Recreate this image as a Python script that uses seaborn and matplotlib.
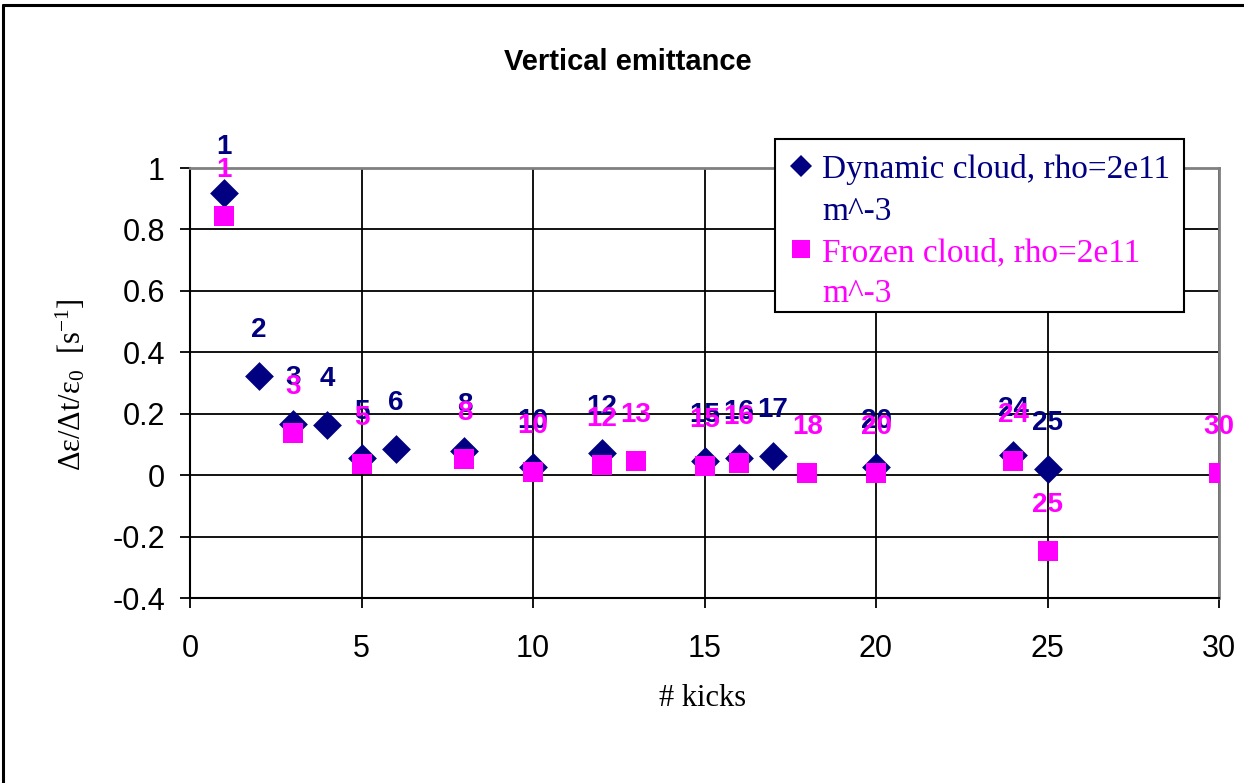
import matplotlib
matplotlib.use("Agg")
import matplotlib.pyplot as plt
import seaborn as sns
import pandas as pd
from matplotlib.lines import Line2D
from matplotlib.patches import Rectangle

# ---- data ----
dyn_kicks = [1, 2, 3, 4, 5, 6, 8, 10, 12, 15, 16, 17, 20, 24, 25]
dyn_vals = [0.918, 0.322, 0.166, 0.163, 0.055, 0.085, 0.078, 0.026, 0.072,
            0.046, 0.055, 0.062, 0.026, 0.065, 0.020]
frz_kicks = [1, 3, 5, 8, 10, 12, 13, 15, 16, 18, 20, 24, 25, 30]
frz_vals = [0.844, 0.137, 0.036, 0.052, 0.010, 0.033, 0.046, 0.030, 0.040,
            0.007, 0.007, 0.046, -0.247, 0.007]
series_names = ["Dynamic cloud, rho=2e11", "Frozen cloud, rho=2e11"]
x_ticks = [0, 5, 10, 15, 20, 25, 30]
y_ticks = [-0.4, -0.2, 0, 0.2, 0.4, 0.6, 0.8, 1]
y_tick_labels = ["-0.4", "-0.2", "0", "0.2", "0.4", "0.6", "0.8", "1"]

NAVY = "#000080"
MAGENTA = "#FF00FF"

sns.set_style("white")
plt.rcParams["font.family"] = ["Liberation Sans", "DejaVu Sans"]
plt.rcParams["mathtext.fontset"] = "custom"
plt.rcParams["mathtext.rm"] = "Liberation Serif"
plt.rcParams["mathtext.it"] = "Liberation Serif:italic"

dyn_df = pd.DataFrame({"kicks": dyn_kicks, "value": dyn_vals})
frz_df = pd.DataFrame({"kicks": frz_kicks, "value": frz_vals})

W, H = 1244, 783
fig = plt.figure(figsize=(W / 100, H / 100), dpi=100)
L, R, T, B = 190, 1219, 168, 598
ax = fig.add_axes([L / W, 1 - B / H, (R - L) / W, (B - T) / H])

sns.scatterplot(data=dyn_df, x="kicks", y="value", ax=ax, marker="D",
                color=NAVY, s=215, linewidth=0, zorder=3, legend=False)
sns.scatterplot(data=frz_df, x="kicks", y="value", ax=ax, marker="s",
                color=MAGENTA, s=195, linewidth=0, zorder=4, legend=False)

for k, v in zip(dyn_kicks, dyn_vals):
    ax.annotate(str(k), (k, v), xytext=(0, 33), textcoords="offset points",
                ha="center", va="center", fontsize=20, fontweight="bold",
                color=NAVY, zorder=5, annotation_clip=False)
for k, v in zip(frz_kicks, frz_vals):
    ax.annotate(str(k), (k, v), xytext=(0, 33), textcoords="offset points",
                ha="center", va="center", fontsize=20, fontweight="bold",
                color=MAGENTA, zorder=6, annotation_clip=False)

ax.set_xlim(0, 30)
ax.set_ylim(-0.4, 1)
ax.set_xticks(x_ticks)
ax.set_xticklabels([str(t) for t in x_ticks])
ax.set_yticks(y_ticks)
ax.set_yticklabels(y_tick_labels)
ax.grid(True, color="black", linewidth=1.3)
ax.set_axisbelow(True)
ax.tick_params(axis="x", direction="out", length=7, width=1.3, pad=19,
               labelsize=22, colors="black", bottom=True)
ax.tick_params(axis="y", direction="out", length=7, width=1.3, pad=11,
               labelsize=22, colors="black", left=True)
for side in ["left", "bottom"]:
    ax.spines[side].set_color("black")
    ax.spines[side].set_linewidth(1.5)
for side in ["top", "right"]:
    ax.spines[side].set_color("#808080")
    ax.spines[side].set_linewidth(2)
ax.set_xlabel("")
ax.set_ylabel("")

fig.text(628 / W, 1 - 62 / H, "Vertical emittance", ha="center", va="center",
         fontsize=21, fontweight="bold", color="black")
fig.text(703 / W, 1 - 698 / H, "# kicks", ha="center", va="center",
         fontsize=22, family="Liberation Serif", color="black")
fig.text(71 / W, 1 - 385 / H, r"Δε/Δt/ε$_0$  [s$^{-1}$]", ha="center",
         va="center", rotation=90, fontsize=22, family="Liberation Serif",
         color="black")

# legend box (drawn as a figure patch so its edges match the reference)
fig.add_artist(Rectangle((775 / W, 1 - 312 / H), (1184 - 775) / W,
                         (312 - 139) / H, transform=fig.transFigure,
                         facecolor="white", edgecolor="black", linewidth=1.5,
                         zorder=9))

handles = [
    Line2D([], [], marker="D", color=NAVY, ls="none", markersize=11, markeredgewidth=0),
    Line2D([], [], marker=None, ls="none"),
    Line2D([], [], marker="s", color=MAGENTA, ls="none", markersize=13, markeredgewidth=0),
    Line2D([], [], marker=None, ls="none"),
]
labels = [series_names[0], "m^-3", series_names[1], "m^-3"]
leg = fig.legend(handles, labels, loc="upper left",
                 bbox_to_anchor=(775 / W, 1 - 140 / H), borderaxespad=0,
                 prop={"family": "Liberation Serif", "size": 24},
                 labelcolor=[NAVY, NAVY, MAGENTA, MAGENTA],
                 frameon=False,
                 handlelength=0.7, handletextpad=0.3, labelspacing=0.33,
                 borderpad=0.42)
leg.set_zorder(10)

# outer chart border (left and top edges visible)
fig.add_artist(Line2D([3 / W, 3 / W], [0, 1 - 5 / H], color="black",
                      linewidth=2.2, transform=fig.transFigure))
fig.add_artist(Line2D([3 / W, 1], [1 - 5 / H, 1 - 5 / H], color="black",
                      linewidth=2.2, transform=fig.transFigure))

fig.savefig("out.png", dpi=100)
